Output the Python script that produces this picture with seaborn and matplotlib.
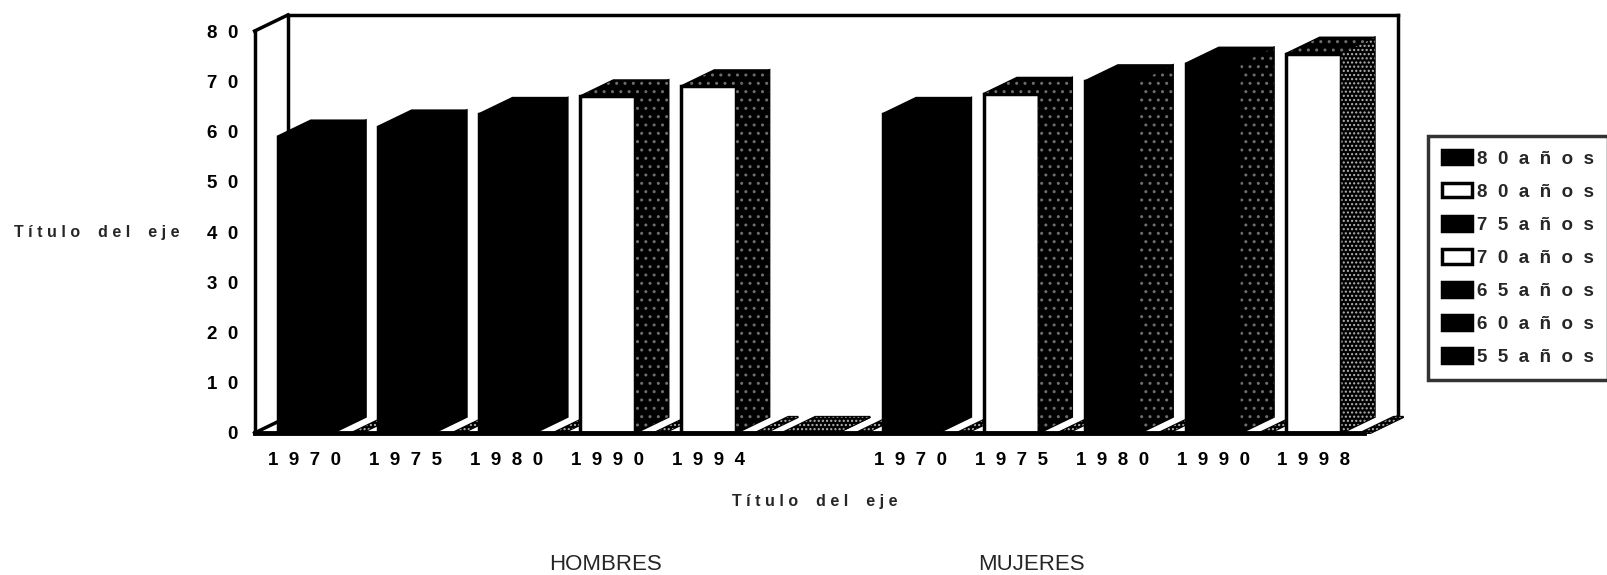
import matplotlib
matplotlib.use("Agg")
import matplotlib.pyplot as plt
from matplotlib.patches import Polygon, Patch
import pandas as pd
import seaborn as sns

# valores (cara frontal de cada barra)
anios_hombres = ["1970", "1975", "1980", "1990", "1994"]
valores_hombres = [59, 61, 63.5, 67, 69]
anios_mujeres = ["1970", "1975", "1980", "1990", "1998"]
valores_mujeres = [63.5, 67.5, 70, 73.5, 75.5]
valor_hueco = [0]  # categoria vacia entre los dos grupos
serie_cero = [0, 0, 0, 0, 0, 0, 0, 0, 0, 0, 0]  # serie oculta en cero (solo se ve la tapa)

leyenda_etiquetas = ["80 años", "80 años", "75 años", "70 años", "65 años", "60 años", "55 años"]
leyenda_colores = ["black", "white", "black", "white", "black", "black", "black"]

# estilo de cada barra
frente_hombres = ["black", "black", "black", "white", "white"]
frente_mujeres = ["black", "white", "black", "black", "white"]
lateral_hombres = ["solido", "solido", "solido", "punteado", "punteado"]
lateral_mujeres = ["solido", "punteado", "punteado", "punteado", "claro"]


def espaciar(texto, sep="  ", sep_palabra="  "):
    return sep_palabra.join(sep.join(p) for p in texto.split(" "))


def cara(ax, puntos, estilo, z):
    ax.add_patch(Polygon(puntos, closed=True, facecolor="black", edgecolor="black",
                         lw=1.5, zorder=z, clip_on=False))
    if estilo == "punteado":
        ax.add_patch(Polygon(puntos, closed=True, facecolor="none", edgecolor="#6e6e6e",
                             lw=0, hatch="..", zorder=z + 0.01, clip_on=False))
    elif estilo == "claro":
        ax.add_patch(Polygon(puntos, closed=True, facecolor="none", edgecolor="#b5b5b5",
                             lw=0, hatch="....", zorder=z + 0.01, clip_on=False))


sns.set_theme(style="white")
plt.rcParams["font.family"] = ["Liberation Sans", "DejaVu Sans"]
plt.rcParams["hatch.linewidth"] = 1.0

etiquetas = anios_hombres + [""] + anios_mujeres
valores = valores_hombres + valor_hueco + valores_mujeres
frentes = frente_hombres + ["black"] + frente_mujeres
laterales = lateral_hombres + ["claro"] + lateral_mujeres
claves = [f"H{a}" for a in anios_hombres] + ["hueco"] + [f"M{a}" for a in anios_mujeres]
df = pd.DataFrame({"clave": claves, "valor": valores})

fig = plt.figure(figsize=(16.07, 5.75), dpi=100)
ax = fig.add_axes([0.1584, 0.247, 0.6906, 0.699])

sns.barplot(data=df, x="clave", y="valor", hue="clave", order=claves, hue_order=claves,
            palette=dict(zip(claves, frentes)), width=0.545, dodge=False, legend=False,
            edgecolor="black", linewidth=2.5, saturation=1, zorder=3, ax=ax)

ax.set_xlim(-0.5, len(claves) - 0.5)
ax.set_ylim(0, 80)
dx, dy = 0.33, 3.2
izq, der = -0.5, len(claves) - 0.5

# caja 3D: pared izquierda, pared del fondo y suelo
kw = dict(color="black", lw=2.5, clip_on=False, zorder=0.5, solid_capstyle="projecting")
ax.plot([izq, izq + dx], [80, 80 + dy], **kw)
ax.plot([izq + dx, izq + dx], [dy, 80 + dy], **kw)
ax.plot([izq, izq + dx], [0, dy], **kw)
ax.plot([izq + dx, der + dx], [80 + dy, 80 + dy], **kw)
ax.plot([der + dx, der + dx], [dy, 80 + dy], **kw)
ax.plot([der, der + dx], [0, dy], **kw)

barras = list(ax.patches)
for p in barras:
    i = int(round(p.get_x() + p.get_width() / 2))
    l, r, h = p.get_x(), p.get_x() + p.get_width(), p.get_height()
    # tapa de la serie en cero, junto al borde derecho de la categoria
    b = i + 0.5 - 0.04 + serie_cero[i]
    cara(ax, [(b, 0), (b + 0.1, 0), (b + 0.1 + dx, dy), (b + dx, dy)], "claro", 1)
    tapa = "solido" if frentes[i] == "black" and h > 0 else ("claro" if h == 0 else "punteado")
    cara(ax, [(r, 0), (r + dx, dy), (r + dx, h + dy), (r, h)], laterales[i], 3)
    cara(ax, [(l, h), (l + dx, h + dy), (r + dx, h + dy), (r, h)], tapa, 3)

for s in ["top", "right"]:
    ax.spines[s].set_visible(False)
ax.spines["left"].set_linewidth(2.5)
ax.spines["bottom"].set_linewidth(3.5)
for s in ["left", "bottom"]:
    ax.spines[s].set_color("black")
    ax.spines[s].set_zorder(4)

fuente = dict(fontsize=13.5, fontweight="bold")
ax.set_yticks(range(0, 81, 10))
ax.set_yticklabels([espaciar(str(v)) for v in range(0, 81, 10)], **fuente)
ax.tick_params(axis="y", direction="out", length=8, width=2.5, pad=4, colors="black")

ax.set_xticks(range(len(claves)))
ax.set_xticklabels([espaciar(e) for e in etiquetas], **fuente)
ax.set_xticks([k - 0.5 for k in range(len(claves) + 1)], minor=True)
ax.tick_params(axis="x", which="major", length=0, pad=14, colors="black")
ax.tick_params(axis="x", which="minor", direction="out", length=6.5, width=2.5, color="black")

titulo = espaciar("Título del eje", " ", "    ")
ax.set_xlabel(titulo, fontsize=11.5, fontweight="bold")
ax.xaxis.set_label_coords(0.505, -0.152)
ax.set_ylabel(titulo, fontsize=11.5, fontweight="bold", rotation=0, ha="center", va="center")
ax.yaxis.set_label_coords(-0.142, 0.5)
ax.grid(False)

fig.text(0.3765, 0.019, "HOMBRES", fontsize=16, ha="center", va="center")
fig.text(0.642, 0.019, "MUJERES", fontsize=16, ha="center", va="center")

handles = [Patch(facecolor=c, edgecolor="black", linewidth=2.5) for c in leyenda_colores]
leg = fig.legend(handles, [espaciar(t) for t in leyenda_etiquetas], loc="upper left",
                 bbox_to_anchor=(0.8886, 0.7635), frameon=True, fancybox=False,
                 edgecolor="black", prop=dict(family="Liberation Sans", weight="bold", size=13.5),
                 handlelength=1.6, handleheight=0.8, handletextpad=0.25,
                 labelspacing=0.82, borderpad=0.75, borderaxespad=0)
leg.get_frame().set_linewidth(2.5)

fig.savefig("out.png", dpi=100, facecolor="white")
